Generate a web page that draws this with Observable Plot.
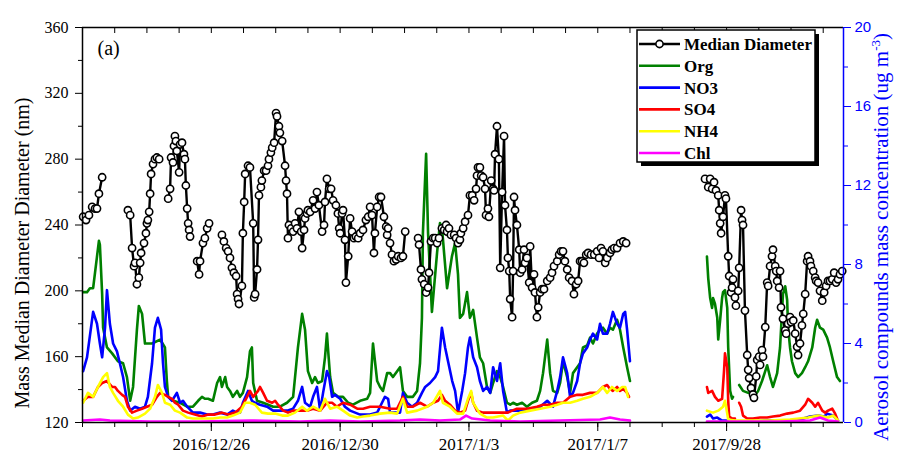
<!DOCTYPE html>
<html><head><meta charset="utf-8">
<script src="https://cdn.jsdelivr.net/npm/d3@7"></script>
<script src="https://cdn.jsdelivr.net/npm/@observablehq/plot@0.6"></script>
<style>body{margin:0;background:#fff} svg{display:block}</style>
</head><body><div id="chart"></div>
<script>
// x values: day index (0 = 2016/12/22; axis break: index 20 = 2017/9/28)
const xTickDays = [4, 8, 12, 16, 20];
const xTickLabels = ["2016/12/26", "2016/12/30", "2017/1/3", "2017/1/7", "2017/9/28"];
const leftTicks = [120, 160, 200, 240, 280, 320, 360];
const leftMinor = [140, 180, 220, 260, 300, 340];
const rightTicks = [0, 4, 8, 12, 16, 20];
const rightMinor = [2, 6, 10, 14, 18];
const seriesNames = ["Median Diameter", "Org", "NO3", "SO4", "NH4", "Chl"];
const seriesColors = ["#000000", "#008000", "#0000ff", "#ff0000", "#ffff00", "#ff00ff"];

// Mass median diameter (nm), [day, value]; null = gap
const medianDiameter = [
[0.02,245],[0.11,243],[0.20,246],[0.30,251],[0.39,250],[0.45,250],[0.51,259],[0.61,269],
[0.9,null],
[1.41,249],[1.48,246],[1.54,226],[1.60,215],[1.63,217],[1.69,204],[1.75,208],[1.79,217],[1.82,223],[1.91,229],[1.97,235],[2.00,241],[2.03,243],[2.07,248],[2.10,259],[2.13,271],[2.19,277],[2.25,280],[2.31,281],[2.38,280],
[2.5,null],
[2.66,256],[2.72,262],[2.75,281],[2.81,278],[2.84,288],[2.87,294],[2.90,291],[2.93,285],[3.00,272],[3.03,289],[3.09,290],[3.15,283],[3.18,280],[3.21,264],[3.25,250],[3.28,241],[3.31,237],[3.34,233],
[3.45,null],
[3.56,218],[3.62,210],[3.65,218],[3.74,229],[3.80,232],[3.87,238],[3.93,241],
[4.1,null],
[4.33,234],[4.39,230],[4.46,226],[4.52,224],[4.58,220],[4.64,214],[4.70,211],[4.77,209],[4.80,198],[4.83,195],[4.86,192],[4.95,203],[4.98,235],[5.02,254],[5.05,271],[5.14,276],[5.20,275],[5.30,241],[5.33,196],[5.36,198],[5.42,213],[5.45,231],[5.48,258],[5.54,263],[5.57,267],[5.64,273],[5.70,273],[5.76,276],[5.79,280],[5.85,284],[5.89,287],[5.95,290],[6.01,308],[6.04,306],[6.10,300],[6.13,296],[6.20,291],
[6.29,276],[6.32,267],[6.35,259],[6.38,232],[6.41,240],[6.48,238],[6.54,236],[6.60,241],[6.66,238],[6.72,248],[6.79,236],[6.82,226],[6.88,237],[6.91,244],[6.97,247],[7.00,249],[7.07,248],[7.16,255],[7.22,250],[7.28,260],[7.34,252],[7.44,236],[7.50,240],[7.53,254],[7.59,268],[7.66,262],[7.72,262],[7.78,255],[7.87,252],[7.93,247],[7.97,238],[8.00,235],[8.06,247],[8.09,249],[8.15,231],[8.18,205],[8.25,221],[8.31,244],[8.37,236],[8.43,232],[8.49,233],[8.56,232],[8.62,235],[8.71,237],[8.80,243],[8.87,245],[8.93,251],[8.99,246],[9.05,223],[9.08,235],[9.15,251],[9.21,257],[9.27,257],[9.36,245],[9.43,239],[9.46,234],[9.49,238],[9.55,229],[9.61,222],[9.67,218],[9.74,219],[9.80,221],[9.89,220],[9.95,221],[10.02,236],
[10.2,null],
[10.42,232],[10.45,228],[10.51,213],[10.54,207],[10.61,204],[10.67,199],[10.73,202],[10.76,211],[10.82,230],[10.89,232],[10.95,232],[11.01,229],[11.07,232],[11.16,238],[11.23,237],[11.29,240],[11.32,236],[11.38,238],[11.44,234],[11.54,234],[11.60,232],[11.66,229],[11.72,231],[11.75,235],[11.82,238],[11.88,242],[11.97,246],[12.03,258],[12.10,258],[12.16,255],[12.22,262],[12.25,270],[12.28,275],[12.34,275],[12.38,270],[12.44,269],[12.50,262],[12.53,246],[12.59,250],[12.62,245],[12.69,267],[12.75,262],[12.78,261],[12.81,283],[12.87,300],[12.93,280],[12.97,214],[13.03,260],[13.09,294],[13.12,252],[13.18,237],[13.21,220],[13.25,212],[13.28,195],[13.34,184],[13.37,212],[13.40,257],[13.43,249],[13.49,240],[13.56,225],[13.59,211],[13.65,213],[13.71,225],[13.74,217],[13.80,220],[13.87,205],[13.90,227],[13.96,202],[14.02,210],[14.05,199],[14.11,184],[14.15,190],[14.21,199],[14.27,201],[14.33,201],[14.43,206],[14.52,208],[14.58,211],[14.64,215],[14.74,218],[14.80,222],[14.86,224],[14.92,224],[14.98,218],[15.05,213],[15.11,208],[15.20,206],[15.26,198],[15.33,204],[15.39,206],[15.45,218],[15.51,218],[15.57,217],[15.64,222],[15.70,223],[15.79,222],[15.89,222],[15.98,224],[16.04,220],[16.10,226],[16.16,224],[16.23,217],[16.29,220],[16.38,223],[16.44,225],[16.51,226],[16.60,226],[16.69,229],[16.79,230],[16.88,229],
[18.0,null],
[19.33,268],[19.43,263],[19.49,268],[19.55,262],[19.61,266],[19.67,261],[19.74,258],[19.77,249],[19.80,241],[19.83,235],[19.89,245],[19.95,258],[19.98,256],[20.05,221],[20.08,209],[20.14,199],[20.17,202],[20.20,207],[20.26,196],[20.29,191],[20.36,200],[20.39,214],[20.45,249],[20.48,243],[20.51,240],[20.57,188],[20.64,161],[20.67,152],[20.70,147],[20.76,141],[20.82,137],[20.85,135],[20.92,148],[20.95,158],[21.01,160],[21.04,155],[21.10,164],[21.13,160],[21.20,178],[21.26,205],[21.29,203],[21.35,215],[21.41,221],[21.44,225],[21.51,215],[21.54,212],[21.57,206],[21.63,202],[21.66,212],[21.69,190],[21.75,183],[21.82,176],[21.85,174],[21.91,180],[21.97,184],[22.00,181],[22.07,182],[22.13,174],[22.19,166],[22.22,161],[22.28,168],[22.34,179],[22.38,186],[22.44,198],[22.50,218],[22.53,221],[22.59,218],[22.62,215],[22.69,212],[22.75,208],[22.78,206],[22.84,205],[22.90,200],[22.97,194],[23.03,199],[23.09,203],[23.15,206],[23.21,206],[23.28,207],[23.34,211],[23.40,205],[23.46,207],[23.52,210],[23.59,212]
];

// Aerosol compound concentrations (ug m-3), [day, value]; null = gap
const org = [
[0.02,6.6],[0.14,6.6],[0.23,6.8],[0.33,6.8],[0.39,7.6],[0.45,8.4],[0.51,9.2],[0.54,9.0],[0.61,6.5],[0.64,4.8],[0.76,3.8],[0.92,3.5],[1.10,3.1],[1.26,3.0],[1.38,2.3],[1.48,1.1],[1.57,1.8],[1.69,4.7],[1.75,5.9],[1.85,5.5],[1.94,4.0],[2.16,4.0],[2.41,4.2],[2.56,3.8],[2.62,2.1],[2.66,1.3],[2.81,1.1],[3.03,1.0],[3.25,0.8],[3.43,0.8],[3.59,1.1],[3.71,1.3],[3.80,1.2],[3.90,1.2],[4.05,1.1],[4.18,2.0],[4.27,2.3],[4.33,1.8],[4.43,2.3],[4.49,1.8],[4.58,1.6],[4.67,1.3],[4.80,1.6],[4.89,1.3],[4.98,1.5],[5.11,2.3],[5.20,3.6],[5.26,3.8],[5.30,2.0],[5.42,1.1],[5.61,1.0],[5.92,0.8],[6.13,0.8],[6.35,1.0],[6.54,1.3],[6.69,3.8],[6.82,5.5],[6.91,4.7],[7.00,2.6],[7.13,2.0],[7.22,2.3],[7.31,2.0],[7.44,2.1],[7.53,3.3],[7.59,4.5],[7.62,3.8],[7.69,2.3],[7.78,1.5],[7.94,1.3],[8.09,1.3],[8.25,1.0],[8.40,0.9],[8.62,1.1],[8.84,1.2],[8.93,1.5],[9.02,4.0],[9.15,2.1],[9.24,1.8],[9.33,1.6],[9.46,2.5],[9.55,2.5],[9.64,2.3],[9.77,2.6],[9.86,2.8],[9.95,1.6],[10.08,1.3],[10.26,1.3],[10.39,1.6],[10.48,3.0],[10.54,5.3],[10.57,9.6],[10.67,13.6],[10.73,9.6],[10.85,5.6],[11.01,8.6],[11.10,10.1],[11.16,9.9],[11.32,6.8],[11.47,8.4],[11.57,9.1],[11.66,7.5],[11.72,5.3],[11.82,5.5],[11.94,6.6],[12.03,5.3],[12.13,5.7],[12.25,4.3],[12.34,3.3],[12.44,3.0],[12.56,1.8],[12.66,1.5],[12.75,2.0],[12.87,2.6],[12.97,2.3],[13.06,1.8],[13.18,1.0],[13.28,0.9],[13.37,1.0],[13.49,0.9],[13.65,1.0],[13.80,0.8],[13.96,1.0],[14.11,1.1],[14.21,1.6],[14.30,2.5],[14.43,4.2],[14.52,2.5],[14.61,1.6],[14.74,1.5],[14.83,2.0],[14.92,3.1],[15.05,2.3],[15.14,1.5],[15.23,2.5],[15.36,2.8],[15.45,3.0],[15.54,3.8],[15.67,3.9],[15.76,4.3],[15.85,4.0],[15.98,4.5],[16.07,4.7],[16.16,4.8],[16.29,4.5],[16.38,4.8],[16.47,4.7],[16.60,5.2],[16.69,4.7],[16.79,3.8],[16.91,2.8],[17.00,2.1],
[18.0,null],
[19.39,8.4],[19.43,7.3],[19.49,6.3],[19.55,5.8],[19.58,6.3],[19.64,6.0],[19.71,5.3],[19.74,4.2],[19.80,5.2],[19.86,6.3],[19.89,6.6],[19.95,6.7],[20.02,5.8],[20.05,3.8],[20.11,1.6],[20.17,1.2],[20.20,1.3],
[20.3,null],
[20.39,1.9],[20.51,1.6],[20.67,1.5],[20.79,1.6],[20.89,1.4],[20.98,1.6],[21.10,2.1],[21.20,2.6],[21.26,2.9],[21.35,2.3],[21.44,1.8],[21.57,2.5],[21.66,3.8],[21.75,6.5],[21.82,6.9],[21.88,6.2],[21.91,4.8],[21.97,3.8],[22.03,3.1],[22.13,2.5],[22.22,2.3],[22.34,2.5],[22.44,2.8],[22.53,3.1],[22.66,3.8],[22.75,4.8],[22.81,5.2],[22.90,4.8],[23.00,4.7],[23.12,4.3],[23.21,3.8],[23.31,3.1],[23.43,2.3],[23.52,2.1]
];
const no3 = [
[0.02,2.6],[0.14,3.3],[0.33,5.6],[0.45,5.0],[0.54,4.0],[0.61,3.3],[0.70,4.8],[0.76,6.7],[0.85,5.0],[0.95,4.0],[1.07,3.6],[1.16,3.0],[1.26,2.3],[1.38,1.1],[1.48,0.6],[1.63,0.8],[1.79,0.7],[1.94,0.8],[2.03,1.3],[2.16,3.0],[2.25,4.8],[2.34,5.3],[2.44,4.7],[2.50,3.0],[2.56,1.8],[2.66,1.3],[2.78,1.1],[2.93,1.5],[3.03,1.0],[3.12,1.1],[3.25,0.8],[3.43,0.5],[3.65,0.5],[3.87,0.4],[4.05,0.4],[4.27,0.5],[4.49,0.4],[4.67,0.6],[4.80,0.5],[4.89,0.5],[4.98,1.0],[5.14,1.6],[5.26,1.1],[5.36,1.0],[5.51,0.9],[5.73,0.8],[5.92,0.6],[6.13,0.6],[6.35,0.6],[6.54,0.7],[6.69,1.1],[6.82,1.8],[6.91,1.0],[7.07,0.8],[7.16,1.3],[7.28,1.8],[7.38,0.6],[7.47,1.5],[7.59,2.6],[7.66,2.3],[7.75,1.3],[7.84,1.4],[8.00,1.2],[8.15,0.8],[8.31,0.6],[8.62,0.4],[8.93,0.4],[9.15,0.5],[9.30,1.0],[9.39,1.3],[9.49,1.2],[9.55,0.5],[9.70,0.5],[9.86,0.5],[9.95,1.5],[10.08,1.0],[10.23,0.8],[10.39,1.0],[10.54,1.5],[10.64,1.8],[10.79,2.0],[10.95,2.3],[11.04,2.6],[11.16,4.8],[11.26,3.8],[11.35,3.1],[11.48,2.1],[11.57,1.6],[11.66,0.5],[11.79,1.6],[11.88,2.5],[11.97,3.8],[12.03,4.3],[12.13,3.3],[12.25,2.8],[12.34,2.1],[12.44,1.6],[12.56,1.8],[12.66,1.5],[12.75,2.8],[12.87,2.1],[12.97,3.0],[13.06,1.6],[13.18,0.5],[13.28,0.6],[13.49,0.6],[13.80,0.6],[13.99,0.7],[14.21,0.8],[14.43,1.1],[14.61,0.8],[14.74,1.6],[14.83,2.3],[14.92,3.3],[15.05,2.5],[15.14,1.3],[15.23,1.5],[15.36,2.1],[15.45,3.0],[15.54,3.5],[15.67,3.8],[15.76,4.2],[15.85,4.5],[15.98,4.2],[16.07,5.0],[16.16,4.5],[16.29,4.5],[16.38,5.0],[16.47,5.6],[16.60,5.0],[16.69,4.8],[16.79,5.5],[16.85,5.6],[16.91,4.7],[17.00,3.1],
[18.0,null],
[19.39,0.3],[19.49,0.4],[19.58,0.2],[19.71,0.25],[19.86,0.1],[19.98,0.1],[20.26,0.05],[20.73,0.05],[21.35,0.1],[21.97,0.1],[22.28,0.15],[22.59,0.3],[22.84,0.35],[23.03,0.3],[23.12,0.45],[23.31,0.35],[23.46,0.1]
];
const so4 = [
[0.02,1.1],[0.17,1.3],[0.33,1.3],[0.48,1.8],[0.61,2.0],[0.76,2.1],[0.92,1.8],[1.01,1.8],[1.10,1.6],[1.23,1.4],[1.32,1.3],[1.41,0.8],[1.54,0.5],[1.69,0.6],[1.85,0.7],[2.00,0.8],[2.16,0.9],[2.31,1.3],[2.41,1.5],[2.56,1.4],[2.66,1.3],[2.78,1.2],[2.87,1.0],[2.97,0.9],[3.12,0.6],[3.28,0.5],[3.49,0.4],[3.71,0.3],[3.90,0.4],[4.11,0.4],[4.33,0.5],[4.52,0.4],[4.74,0.5],[4.95,0.8],[5.11,1.3],[5.20,1.6],[5.30,1.3],[5.45,1.6],[5.51,1.8],[5.61,1.5],[5.73,1.1],[5.89,1.0],[5.98,1.1],[6.07,0.9],[6.23,0.6],[6.38,0.5],[6.54,0.6],[6.76,0.6],[6.97,0.6],[7.16,0.7],[7.38,0.6],[7.59,1.0],[7.75,1.0],[7.90,0.8],[8.09,1.0],[8.31,0.9],[8.53,0.7],[8.71,0.7],[8.93,0.8],[9.24,0.8],[9.55,0.7],[9.77,0.7],[9.95,1.3],[10.08,0.8],[10.26,0.8],[10.48,1.0],[10.70,0.8],[10.89,1.0],[11.04,1.1],[11.16,1.4],[11.26,1.1],[11.41,0.9],[11.57,0.6],[11.72,0.5],[11.88,0.6],[11.97,1.1],[12.07,1.5],[12.13,1.0],[12.25,0.6],[12.44,0.5],[12.66,0.5],[12.87,0.5],[13.06,0.5],[13.21,0.5],[13.34,0.6],[13.49,0.7],[13.80,0.7],[14.11,0.8],[14.30,0.9],[14.52,0.9],[14.74,1.0],[14.92,1.0],[15.14,1.3],[15.36,1.4],[15.54,1.4],[15.76,1.5],[15.98,1.5],[16.16,1.8],[16.29,1.9],[16.38,1.7],[16.47,1.6],[16.60,1.8],[16.69,1.6],[16.79,1.7],[16.91,1.5],[16.97,1.3],
[18.0,null],
[19.39,1.8],[19.43,1.5],[19.55,1.6],[19.64,1.3],[19.74,1.1],[19.86,1.2],[19.92,2.6],[19.95,3.5],[20.02,2.8],[20.05,1.1],[20.08,0.3],[20.17,0.2],[20.26,0.2],
[20.32,null],
[20.39,1.0],[20.45,0.8],[20.51,0.35],[20.64,0.2],[20.82,0.2],[21.04,0.25],[21.26,0.25],[21.44,0.3],[21.66,0.35],[21.88,0.45],[22.07,0.5],[22.28,0.6],[22.44,0.9],[22.53,1.2],[22.66,1.0],[22.75,0.8],[22.84,1.0],[22.97,0.6],[23.06,0.5],[23.15,0.6],[23.28,0.7],[23.37,0.45],[23.43,0.2]
];
const nh4 = [
[0.02,1.0],[0.17,1.5],[0.33,1.3],[0.48,1.8],[0.64,2.3],[0.76,2.5],[0.85,1.8],[0.95,1.5],[1.10,1.1],[1.26,0.8],[1.41,0.4],[1.57,0.2],[1.72,0.25],[1.94,0.45],[2.10,0.7],[2.25,1.3],[2.34,1.9],[2.47,1.5],[2.56,1.0],[2.72,0.9],[2.87,0.6],[3.03,0.5],[3.25,0.25],[3.43,0.2],[3.65,0.2],[3.87,0.2],[4.05,0.2],[4.27,0.25],[4.49,0.25],[4.67,0.35],[4.89,0.5],[5.05,1.0],[5.20,1.0],[5.36,0.9],[5.57,0.5],[5.76,0.45],[5.98,0.45],[6.20,0.35],[6.38,0.35],[6.60,0.5],[6.82,0.8],[6.97,0.6],[7.16,0.8],[7.38,0.6],[7.53,1.2],[7.69,0.7],[7.90,0.8],[8.09,0.6],[8.31,0.35],[8.53,0.25],[8.71,0.3],[8.93,0.35],[9.24,0.45],[9.55,0.5],[9.77,0.45],[9.95,1.2],[10.08,0.5],[10.39,0.6],[10.70,0.8],[10.89,1.0],[11.10,1.6],[11.19,1.0],[11.41,0.8],[11.63,0.45],[11.82,0.45],[11.97,1.2],[12.07,1.6],[12.13,1.0],[12.34,0.45],[12.56,0.25],[12.75,0.25],[13.06,0.35],[13.21,0.1],[13.37,0.35],[13.59,0.5],[13.90,0.6],[14.21,0.7],[14.52,0.8],[14.74,0.9],[14.92,1.0],[15.14,1.0],[15.36,1.1],[15.54,1.2],[15.76,1.3],[15.98,1.5],[16.16,1.8],[16.29,1.5],[16.44,1.8],[16.60,1.6],[16.76,1.8],[16.85,1.8],[16.94,1.3],
[18.0,null],
[19.39,0.6],[19.58,0.5],[19.74,0.6],[19.89,0.8],[19.95,1.1],[20.02,0.45],[20.05,0.15],[20.26,0.1],[20.73,0.1],[21.35,0.1],[21.97,0.15],[22.53,0.25],[22.84,0.35],[23.15,0.25],[23.31,0.35],[23.46,0.1]
];
const chl = [
[0.02,0.1],[0.54,0.15],[0.85,0.1],[2.10,0.05],[3.65,0.05],[5.20,0.1],[6.76,0.05],[7.69,0.1],[8.62,0.05],[9.86,0.1],[10.48,0.15],[11.10,0.1],[11.72,0.15],[11.91,0.35],[12.10,0.2],[12.66,0.1],[13.59,0.05],[14.83,0.1],[16.07,0.15],[16.38,0.25],[16.69,0.15],[17.00,0.1],
[18.0,null],
[19.39,0.05],[20.11,0.05],[21.66,0.05],[22.59,0.1],[22.90,0.25],[23.15,0.1],[23.46,0.05]
];

const xMax = 23.63;
const toY = c => (c == null ? NaN : 120 + 12 * c);
const dY = v => (v == null ? NaN : v);
const serif = "'Liberation Serif', 'Times New Roman', serif";
const sans = "'Liberation Sans', Arial, sans-serif";
const conc = [org, no3, so4, nh4, chl];

const marks = [];
conc.forEach((s, i) => {
  marks.push(Plot.line(s, {x: d => d[0], y: d => toY(d[1]), stroke: seriesColors[i + 1], strokeWidth: 2.6}));
});
marks.push(
  Plot.line(medianDiameter, {x: d => d[0], y: d => dY(d[1]), stroke: "#000", strokeWidth: 2.4}),
  Plot.dot(medianDiameter, {x: d => d[0], y: d => dY(d[1]), r: 3.6, stroke: "#000", strokeWidth: 1.6, fill: "#fff"}),
  Plot.ruleX([0], {stroke: "#000", strokeWidth: 1.5}),
  Plot.ruleY([120], {stroke: "#000", strokeWidth: 1.5}),
  Plot.ruleY([360], {stroke: "#000", strokeWidth: 1.5}),
  Plot.ruleX([xMax], {stroke: "#0000ff", strokeWidth: 1.5}),
  Plot.axisX({ticks: d3.range(0, 24), tickSize: 5, tickFormat: () => "", label: null}),
  Plot.axisX({ticks: xTickDays, tickSize: 9, tickPadding: 6, fontSize: 17, fontFamily: serif,
    tickFormat: d => xTickLabels[xTickDays.indexOf(d)], label: null}),
  Plot.axisX({anchor: "top", ticks: d3.range(1, 24), tickSize: -5, tickFormat: () => "", label: null}),
  Plot.axisY({ticks: leftTicks, tickSize: 7, tickPadding: 7, fontSize: 16, fontFamily: serif, tickFormat: d => String(d), label: null}),
  Plot.axisY({ticks: leftMinor, tickSize: 4, tickFormat: () => "", label: null}),
  Plot.axisY({anchor: "right", ticks: rightTicks.map(toY), tickSize: 7, tickPadding: 4, fontSize: 15, fontFamily: sans,
    color: "#0000ff", tickFormat: d => String(Math.round((d - 120) / 12)), label: null}),
  Plot.axisY({anchor: "right", ticks: rightMinor.map(toY), tickSize: 4, color: "#0000ff", tickFormat: () => "", label: null}),
  Plot.text(["(a)"], {frameAnchor: "top-left", dx: 15, dy: 13, fontSize: 20, fontFamily: serif, textAnchor: "start"}),
  Plot.text(["Mass Median Diameter Diameter (nm)"], {frameAnchor: "left", rotate: -90, dx: -60, dy: 28,
    textAnchor: "middle", fontSize: 20, fontFamily: serif})
);

const svg = Plot.plot({
  width: 904, height: 457,
  marginLeft: 82, marginRight: 61, marginTop: 27, marginBottom: 35,
  style: {fontFamily: serif, background: "#fff", color: "#000", overflow: "visible"},
  x: {domain: [0, xMax]},
  y: {domain: [120, 360]},
  marks
});
document.getElementById("chart").appendChild(svg);

const s = d3.select(svg);
// right axis title with superscript
const rt = s.append("text")
  .attr("transform", "translate(881,237) rotate(-90)")
  .attr("text-anchor", "middle").attr("dy", "0.35em")
  .attr("fill", "#0000ff")
  .style("font-family", serif).style("font-size", "21px");
rt.append("tspan").text("Aerosol compounds mass concentration (ug m");
rt.append("tspan").attr("dy", -8).style("font-size", "13px").text("-3");
rt.append("tspan").attr("dy", 8).text(")");

// legend
const lg = s.append("g").attr("text-anchor", "start");
lg.append("rect").attr("x", 641).attr("y", 34).attr("width", 178).attr("height", 132).attr("fill", "#000");
lg.append("rect").attr("x", 637).attr("y", 30).attr("width", 178).attr("height", 132)
  .attr("fill", "#fff").attr("stroke", "#000").attr("stroke-width", 1.5);
seriesNames.forEach((n, i) => {
  const y = 44 + i * 21.8;
  lg.append("line").attr("x1", 639).attr("x2", 680).attr("y1", y).attr("y2", y)
    .attr("stroke", seriesColors[i]).attr("stroke-width", 2.6);
  if (i === 0) lg.append("circle").attr("cx", 659.5).attr("cy", y).attr("r", 3.6)
    .attr("fill", "#fff").attr("stroke", "#000").attr("stroke-width", 1.6);
  lg.append("text").attr("x", 684).attr("y", y).attr("dy", "0.35em").attr("text-anchor", "start")
    .style("font-family", serif).style("font-weight", "bold").style("font-size", "17px").text(n);
});
</script>
</body></html>
